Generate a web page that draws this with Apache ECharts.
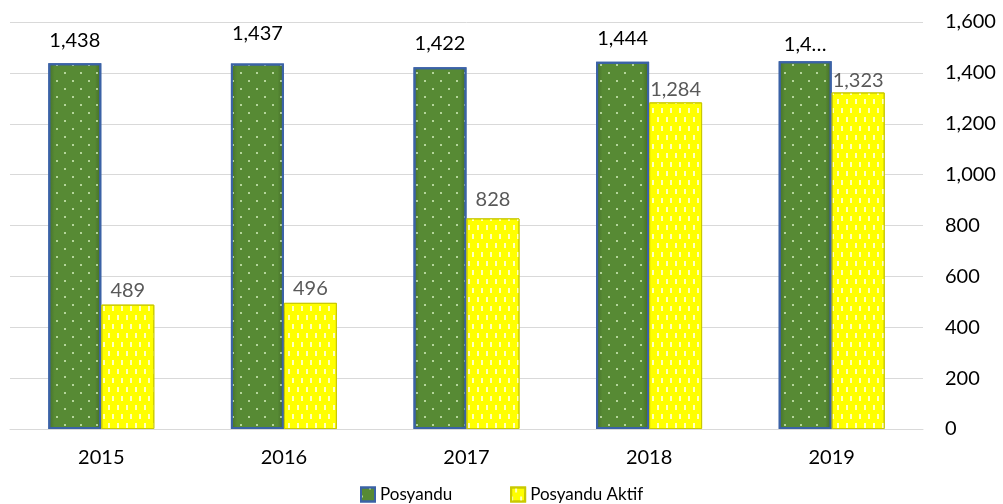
<!DOCTYPE html>
<html>
<head>
<meta charset="utf-8">
<script src="https://cdn.jsdelivr.net/npm/echarts@6/dist/echarts.min.js"></script>
<style>
  html, body { margin: 0; padding: 0; background: #fff; }
  #chart { width: 1003px; height: 504px; }
</style>
</head>
<body>
<div id="chart"></div>
<script>
const years = ['2015', '2016', '2017', '2018', '2019']
const posyandu = [1438, 1437, 1422, 1444, 1446]
const posyanduAktif = [489, 496, 828, 1284, 1323]
const yTicks = { min: 0, max: 1600, interval: 200 }

// label offsets as placed in the original sheet
const greenLabelDistance = [13, 20, 14, 13, 7]
const yellowLabelDistance = [4, 4, 9, 3, 2]

const fmt = v => Number(v).toLocaleString('en-US')
const font = 'Lato, "Open Sans", sans-serif'

const chart = echarts.init(document.getElementById('chart'))
chart.setOption({
  backgroundColor: '#ffffff',
  textStyle: { fontFamily: font },
  grid: { left: 10, right: 80, top: 22, bottom: 75 },
  legend: {
    left: 355,
    top: 481,
    icon: 'rect',
    itemWidth: 14,
    itemHeight: 14,
    itemGap: 58,
    textStyle: { fontSize: 17, color: '#000', fontFamily: font },
    data: ['Posyandu', 'Posyandu Aktif']
  },
  xAxis: {
    type: 'category',
    data: years,
    axisTick: { show: false },
    axisLine: { lineStyle: { color: '#D9D9D9', width: 1 } },
    axisLabel: { margin: 19, fontSize: 20, color: '#000', fontFamily: font }
  },
  yAxis: {
    type: 'value',
    position: 'right',
    min: yTicks.min,
    max: yTicks.max,
    interval: yTicks.interval,
    axisLine: { show: false },
    axisTick: { show: false },
    splitLine: { lineStyle: { color: '#D9D9D9', width: 1 } },
    axisLabel: { margin: 22, fontSize: 20, color: '#000', fontFamily: font, formatter: fmt }
  },
  series: [
    {
      name: 'Posyandu',
      type: 'bar',
      barWidth: 53,
      barGap: 0,
      data: posyandu.map((v, i) => ({ value: v, label: { distance: greenLabelDistance[i] } })),
      itemStyle: {
        color: new echarts.graphic.LinearGradient(0, 0, 1, 0, [
          { offset: 0, color: '#466F2A' },
          { offset: 0.12, color: '#578A34' },
          { offset: 0.88, color: '#578A34' },
          { offset: 1, color: '#426827' }
        ]),
        borderColor: '#3B62A6',
        borderWidth: 2,
        decal: {
          symbol: 'circle',
          symbolSize: 1,
          color: 'rgba(225,250,205,0.9)',
          dashArrayX: [[2, 14], [0, 8, 2, 6]],
          dashArrayY: [2, 6]
        }
      },
      label: {
        show: true,
        position: 'top',
        fontSize: 20,
        color: '#000',
        fontFamily: font,
        formatter: p => {
          const s = fmt(p.value)
          return p.dataIndex === 4 ? s.slice(0, 3) + '…' : s
        }
      }
    },
    {
      name: 'Posyandu Aktif',
      type: 'bar',
      barWidth: 53,
      barGap: 0,
      data: posyanduAktif.map((v, i) => ({ value: v, label: { distance: yellowLabelDistance[i] } })),
      itemStyle: {
        color: '#FFFF00',
        borderColor: '#C9C900',
        borderWidth: 1,
        decal: {
          symbol: 'rect',
          symbolSize: 1,
          color: 'rgba(255,255,255,0.75)',
          dashArrayX: [[1.5, 6.5], [0, 4, 1.5, 2.5]],
          dashArrayY: [5, 4]
        }
      },
      label: {
        show: true,
        position: 'top',
        fontSize: 20,
        color: '#595959',
        fontFamily: font,
        formatter: p => fmt(p.value)
      }
    }
  ]
})
</script>
</body>
</html>
